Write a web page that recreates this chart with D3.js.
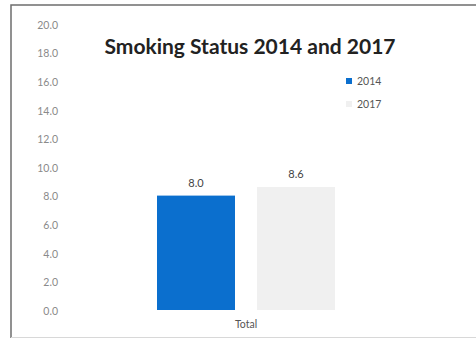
<!DOCTYPE html>
<html>
<head>
<meta charset="utf-8">
<script src="https://cdn.jsdelivr.net/npm/d3@7"></script>
<style>
  body { margin: 0; background: #fff; overflow: hidden; }
  svg { display: block; }
</style>
</head>
<body>
<script>
const categories = ["Total"]
const years = ["2014", "2017"]
const values2014 = [8.0]
const values2017 = [8.6]
const yTicks = [0, 2, 4, 6, 8, 10, 12, 14, 16, 18, 20]

const colors = {"2014": "#0b6fce", "2017": "#f0f0f0"}
const series = {"2014": values2014, "2017": values2017}

const svg = d3.select("body").append("svg")
  .attr("width", 476)
  .attr("height", 339)

// frame: left and top edges, faint bottom
svg.append("path")
  .attr("d", "M11,338V5H476")
  .attr("fill", "none")
  .attr("stroke", "#6e6e6e")
  .attr("stroke-width", 1.5)

svg.append("line")
  .attr("x1", 11).attr("x2", 476)
  .attr("y1", 337.5).attr("y2", 337.5)
  .attr("stroke", "#d8d8d8")

let y = d3.scaleLinear().domain([0, 20]).range([310, 24])
let x0 = d3.scaleBand().domain(categories).range([64, 428]).paddingInner(0).paddingOuter(0.5225)
let x1 = d3.scaleBand().domain(years).range([0, x0.bandwidth()]).paddingInner(0.22)

// y axis labels
let yAxis = d3.axisLeft(y).tickValues(yTicks).tickFormat(d3.format(".1f")).tickSize(0).tickPadding(0)
svg.append("g")
  .attr("transform", "translate(58,1)")
  .call(yAxis)
  .call(g => g.select(".domain").remove())
  .call(g => g.selectAll("text")
    .attr("fill", "#8a8a8a")
    .style("font-family", "Lato, 'Open Sans', sans-serif")
    .style("font-size", "10.5px"))

// bars
let group = svg.selectAll(".cat")
  .data(categories)
  .enter()
  .append("g")
  .attr("class", "cat")
  .attr("transform", d => "translate(" + x0(d) + ",0)")

years.forEach(function(yr) {

  group.append("rect")
    .attr("x", x1(yr))
    .attr("y", (d, i) => y(series[yr][i]))
    .attr("width", x1.bandwidth())
    .attr("height", (d, i) => y(0) - y(series[yr][i]))
    .attr("fill", colors[yr])

  group.append("text")
    .attr("x", x1(yr) + x1.bandwidth() / 2)
    .attr("y", (d, i) => y(series[yr][i]) - 9)
    .attr("text-anchor", "middle")
    .attr("fill", "#444")
    .style("font-family", "Lato, 'Open Sans', sans-serif")
    .style("font-size", "11px")
    .text((d, i) => series[yr][i].toFixed(1))

})

// x axis label
let xAxis = d3.axisBottom(x0).tickSize(0).tickPadding(0)
svg.append("g")
  .attr("transform", "translate(0,321)")
  .call(xAxis)
  .call(g => g.select(".domain").remove())
  .call(g => g.selectAll("text")
    .attr("fill", "#555")
    .style("font-family", "Lato, 'Open Sans', sans-serif")
    .style("font-size", "10.5px"))

// title
svg.append("text")
  .attr("x", 250)
  .attr("y", 54)
  .attr("text-anchor", "middle")
  .attr("fill", "#222")
  .style("font-family", "Lato, 'Open Sans', sans-serif")
  .style("font-weight", "bold")
  .style("font-size", "21px")
  .text("Smoking Status 2014 and 2017")

// legend
let legend = svg.selectAll(".legend")
  .data(years)
  .enter()
  .append("g")
  .attr("class", "legend")
  .attr("transform", (d, i) => "translate(346," + (78 + i * 23) + ")")

legend.append("rect")
  .attr("width", 6).attr("height", 6)
  .attr("fill", d => colors[d])

legend.append("text")
  .attr("x", 11)
  .attr("y", 3)
  .attr("dy", "0.35em")
  .attr("fill", "#555")
  .style("font-family", "Lato, 'Open Sans', sans-serif")
  .style("font-size", "10.5px")
  .text(d => d)
</script>
</body>
</html>
